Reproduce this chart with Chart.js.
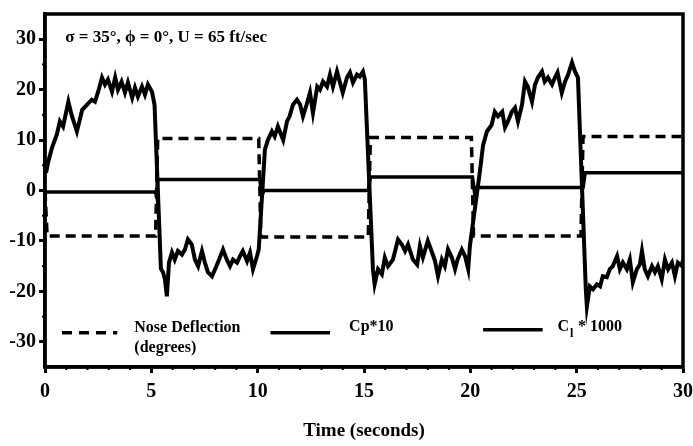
<!DOCTYPE html>
<html>
<head>
<meta charset="utf-8">
<script src="https://cdn.jsdelivr.net/npm/chart.js@4.4.0/dist/chart.umd.min.js"></script>
<style>
  html, body { margin: 0; padding: 0; background: #fff; }
</style>
</head>
<body>
<canvas id="chart" width="693" height="446"></canvas>
<script>
// axis ticks
const xTicks = [0, 5, 10, 15, 20, 25, 30];
const yTicks = [-30, -20, -10, 0, 10, 20, 30];

// nose deflection (degrees) - square wave
const noseTime  = [0, 0.1, 5.2, 5.3, 10.05, 10.15, 15.2, 15.3, 20.05, 20.15, 25.2, 25.3, 30];
const noseValue = [0, -9, -9, 10.3, 10.3, -9.2, -9.2, 10.5, 10.5, -9, -9, 10.7, 10.7];

// Cp*10, one row per half cycle
const cpTime = [
  0.05, 0.14, 0.33, 0.55, 0.7, 0.85, 1.1, 1.25, 1.5, 1.75, 1.97, 2.2, 2.35, 2.5, 2.68, 2.82, 2.96, 3.15, 3.3, 3.43, 3.6, 3.76, 3.9, 4.1, 4.23, 4.37, 4.56, 4.7, 4.84, 5.03, 5.15,
  5.45, 5.55, 5.64, 5.73, 5.83, 5.97, 6.1, 6.25, 6.44, 6.58, 6.72, 6.9, 7.05, 7.2, 7.38, 7.52, 7.66, 7.85, 8.0, 8.13, 8.37, 8.55, 8.7, 8.84, 9.03, 9.17, 9.3, 9.5, 9.64, 9.78, 9.97, 10.05,
  10.34, 10.48, 10.67, 10.8, 10.95, 11.2, 11.38, 11.5, 11.66, 11.85, 12.0, 12.13, 12.3, 12.46, 12.6, 12.8, 12.93, 13.07, 13.26, 13.4, 13.54, 13.73, 13.87, 14.0, 14.2, 14.34, 14.48, 14.67, 14.8, 14.95, 15.04,
  15.42, 15.5, 15.66, 15.84, 15.98, 16.13, 16.36, 16.6, 16.78, 16.93, 17.07, 17.3, 17.5, 17.63, 17.77, 18.0, 18.2, 18.34, 18.48, 18.66, 18.8, 18.95, 19.13, 19.28, 19.4, 19.6, 19.75, 19.9, 19.98,
  20.45, 20.6, 20.78, 21.0, 21.15, 21.3, 21.5, 21.63, 21.77, 21.95, 22.1, 22.24, 22.43, 22.57, 22.7, 22.9, 23.04, 23.18, 23.37, 23.5, 23.65, 23.84, 23.98, 24.1, 24.3, 24.45, 24.6, 24.78, 24.92, 25.06,
  25.43, 25.48, 25.62, 25.77, 25.95, 26.1, 26.23, 26.42, 26.56, 26.7, 26.9, 27.03, 27.17, 27.36, 27.5, 27.64, 27.83, 27.97, 28.07, 28.2, 28.35, 28.54, 28.68, 28.82, 29.0, 29.15, 29.3, 29.48, 29.62, 29.76, 29.95, 30
];
const cpValue = [
  3.5, 5.5, 8.5, 11, 13.7, 12.7, 17.6, 15, 11.7, 16, 17, 18, 17.6, 19.6, 22.4, 21, 22, 19.6, 22.4, 20, 21.6, 19.4, 21.4, 18.4, 20.4, 18.6, 20.6, 19, 21, 19.6, 17,
  -15.5, -16.2, -17.6, -21, -14.3, -12.3, -13.7, -12, -12.7, -11.7, -9.7, -10.7, -13.7, -15, -12, -14.3, -16.2, -17, -15.6, -14.3, -11.7, -13.7, -15, -13.7, -14.3, -13, -12, -14, -12.3, -15.6, -13, -11.7,
  8.1, 10, 11.7, 10.7, 12.7, 10, 13.7, 14.7, 17, 18, 17, 14.7, 17, 19.4, 15.4, 20.6, 20, 21.6, 20.6, 23, 20.6, 23.6, 21.4, 19.4, 22.4, 23.4, 21.4, 23, 22.6, 23.6, 22,
  -15.6, -18.6, -15.6, -16.6, -13.3, -15, -13.7, -9.7, -10.7, -12, -10.7, -13.7, -14.7, -11, -13.3, -10, -12.3, -14, -17, -13.7, -15, -11.7, -13.3, -15.6, -13.7, -11.7, -13, -15.6, -11,
  3.8, 9, 11.7, 13, 15.6, 14.7, 15.6, 12.5, 13.7, 15.6, 16.4, 13.7, 17, 21.6, 20.6, 17.6, 21, 22.4, 23.6, 21.6, 22.4, 21, 22.4, 23.4, 19.4, 21.6, 23, 25.4, 23.6, 22.4,
  -19.6, -23, -19, -19.6, -18.6, -19, -17, -17.2, -15.6, -15, -13, -15.6, -14.3, -15.6, -13.7, -18.2, -15.6, -14.7, -12, -15.6, -17, -15, -16.2, -15, -17.6, -13.7, -15.6, -14.3, -17, -14.3, -15, -13.7
];

// Cl*1000 - near-zero square wave
const clTime  = [0, 5.2, 5.25, 5.3, 10.1, 10.2, 10.3, 15.2, 15.3, 20.1, 20.2, 20.3, 25.3, 25.4, 30];
const clValue = [-0.3, -0.3, -1.2, 2.2, 2.2, -1, 0, 0, 2.7, 2.7, -0.5, 0.6, 0.6, 3.5, 3.5];

const serif = '"Liberation Serif", "Times New Roman", serif';
const annotation = "σ = 35°, ϕ = 0°, U = 65 ft/sec";

const toPoints = (ts, vs) => ts.map((t, i) => ({ x: t, y: vs[i] }));

// frame, minor ticks, annotation and the in-plot legend
const decorations = {
  id: "decorations",
  afterDraw(chart) {
    const { ctx, chartArea: a } = chart;
    const x = chart.scales.x, y = chart.scales.y;
    ctx.save();
    ctx.strokeStyle = "#000";
    ctx.fillStyle = "#000";
    ctx.lineWidth = 3.5;
    ctx.strokeRect(a.left, a.top, a.right - a.left, a.bottom - a.top);

    // minor ticks
    ctx.lineWidth = 2;
    for (let t = 1; t < 30; t++) {
      if (t % 5 === 0) continue;
      const px = x.getPixelForValue(t);
      ctx.beginPath(); ctx.moveTo(px, a.bottom); ctx.lineTo(px, a.bottom + 3); ctx.stroke();
    }
    for (let v = -25; v <= 25; v += 10) {
      const py = y.getPixelForValue(v);
      ctx.beginPath(); ctx.moveTo(a.left, py); ctx.lineTo(a.left - 3, py); ctx.stroke();
    }

    ctx.textBaseline = "middle";
    ctx.textAlign = "left";
    ctx.font = "bold 17px " + serif;
    ctx.fillText(annotation, x.getPixelForValue(0.95), y.getPixelForValue(30.3), 207);

    // legend
    const ly = y.getPixelForValue(-27.6);
    const ds = chart.data.datasets;
    ctx.lineWidth = 3.5;
    ctx.setLineDash([10, 7]);
    ctx.beginPath(); ctx.moveTo(x.getPixelForValue(0.8), ly + 3); ctx.lineTo(x.getPixelForValue(3.4), ly + 3); ctx.stroke();
    ctx.setLineDash([]);
    ctx.beginPath(); ctx.moveTo(x.getPixelForValue(10.6), ly + 3); ctx.lineTo(x.getPixelForValue(13.4), ly + 3); ctx.stroke();
    ctx.beginPath(); ctx.moveTo(x.getPixelForValue(20.6), ly); ctx.lineTo(x.getPixelForValue(23.4), ly); ctx.stroke();

    ctx.font = "bold 16px " + serif;
    ctx.fillText(ds[0].label, x.getPixelForValue(4.2), ly - 2, 116);
    ctx.fillText("(degrees)", x.getPixelForValue(4.2), ly + 18, 66);
    ctx.fillText(ds[1].label, x.getPixelForValue(14.3), ly - 3, 50);
    const cx = x.getPixelForValue(24.1);
    ctx.fillText("C", cx, ly - 3);
    const cw = ctx.measureText("C").width;
    ctx.font = "bold 12px " + serif;
    ctx.fillText("l", cx + cw + 1, ly + 4);
    ctx.font = "bold 16px " + serif;
    ctx.fillText(" * 1000", cx + cw + 5, ly - 3);
    ctx.restore();
  }
};

new Chart(document.getElementById("chart"), {
  type: "line",
  data: {
    datasets: [
      {
        label: "Nose Deflection",
        data: toPoints(noseTime, noseValue),
        borderColor: "#000",
        borderWidth: 3.5,
        borderDash: [10, 6],
        pointRadius: 0,
        tension: 0
      },
      {
        label: "Cp*10",
        data: toPoints(cpTime, cpValue),
        borderColor: "#000",
        borderWidth: 4,
        pointRadius: 0,
        tension: 0
      },
      {
        label: "Cl * 1000",
        data: toPoints(clTime, clValue),
        borderColor: "#000",
        borderWidth: 3.5,
        pointRadius: 0,
        tension: 0
      }
    ]
  },
  options: {
    responsive: false,
    animation: false,
    layout: { padding: { top: 14, right: 10, left: 0, bottom: 0 } },
    plugins: {
      legend: { display: false },
      tooltip: { enabled: false }
    },
    scales: {
      x: {
        type: "linear",
        min: 0,
        max: 30,
        afterBuildTicks: s => { s.ticks = xTicks.map(v => ({ value: v })); },
        afterFit: s => { s.height = 79; s.paddingLeft = 0; s.paddingRight = 0; },
        border: { display: true, color: "#000", width: 3.5 },
        grid: { drawOnChartArea: false, drawTicks: true, tickLength: 6, tickWidth: 3, tickColor: "#000" },
        ticks: { color: "#000", padding: 7, maxRotation: 0, font: { family: serif, size: 20, weight: "bold" } },
        title: {
          display: true,
          text: "Time (seconds)",
          color: "#000",
          font: { family: serif, size: 19, weight: "bold" },
          padding: { top: 4, bottom: 4 }
        }
      },
      y: {
        min: -35,
        max: 35,
        afterBuildTicks: s => { s.ticks = yTicks.map(v => ({ value: v })); },
        afterFit: s => { s.width = 45; s.paddingTop = 0; s.paddingBottom = 0; },
        border: { display: true, color: "#000", width: 3.5 },
        grid: { drawOnChartArea: false, drawTicks: true, tickLength: 6, tickWidth: 3, tickColor: "#000" },
        ticks: { color: "#000", padding: 3, font: { family: serif, size: 20, weight: "bold" } }
      }
    }
  },
  plugins: [decorations]
});
</script>
</body>
</html>
